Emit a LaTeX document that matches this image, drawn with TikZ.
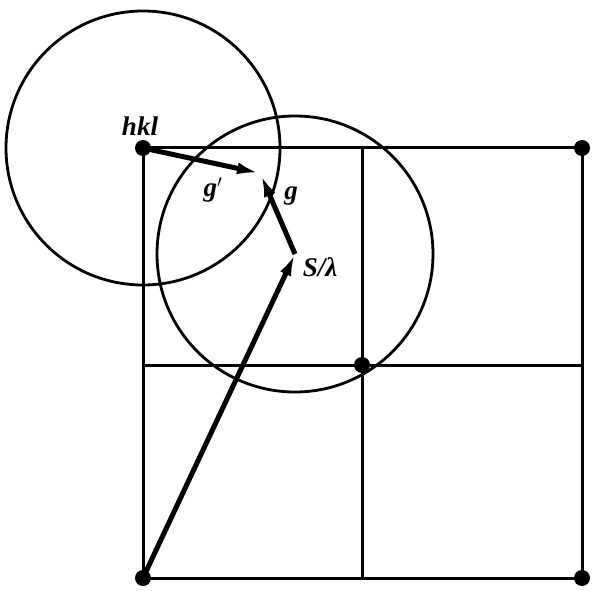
\documentclass[tikz,border=0pt]{standalone}
\usepackage{fontspec}
\setmainfont{Liberation Serif}
\usetikzlibrary{arrows.meta}

\begin{document}
\begin{tikzpicture}[
    x=1pt, y=-1pt,
    dot/.style={circle, fill, inner sep=0pt, minimum size=16pt},
    gridline/.style={line width=3pt},
    sphere/.style={line width=2.8pt},
    vec/.style={line width=5pt, -{Latex[length=22pt,width=12pt]}},
    lbl/.style={font=\fontsize{27}{27}\selectfont\bfseries\itshape, inner sep=0pt}
]
    \useasboundingbox (0,0) rectangle (597,591);

    % Lattice points
    \node[dot] (hkl) at (143,148) {};
    \node[dot] (tr) at (582,148) {};
    \node[dot] (mid) at (362,365) {};
    \node[dot] (o) at (143,578) {};
    \node[dot] (br) at (582,578) {};

    % Free ends of the middle lines
    \coordinate (mtop) at (362,148);
    \coordinate (mbot) at (362,578);
    \coordinate (mleft) at (143,365);
    \coordinate (mright) at (582,365);

    % Lattice lines
    \draw[gridline] (hkl.center) -- (tr.center) -- (br.center) -- (o.center) -- cycle;
    \draw[gridline] (mtop) -- (mbot);
    \draw[gridline] (mleft) -- (mright);

    % Vector tips
    \coordinate (s) at (295,254);
    \coordinate (gp) at (259,173);
    \coordinate (gt) at (261,175);

    % Spheres
    \draw[sphere] (hkl.center) circle[radius=137];
    \draw[sphere] (s) circle[radius=138];

    % Vectors
    \draw[vec] (o.center) -- (s);
    \draw[vec] (hkl.center) -- (gp);
    \draw[vec] (s) -- (gt);

    % Labels
    \node[lbl] (lhkl) at (140,126) {hkl};
    \node[lbl] (lgp) at (213,190) {g$'$};
    \node[lbl] (lg) at (291,196) {g};
    \node[lbl] (ls) at (320,267) {S/λ};
\end{tikzpicture}
\end{document}
